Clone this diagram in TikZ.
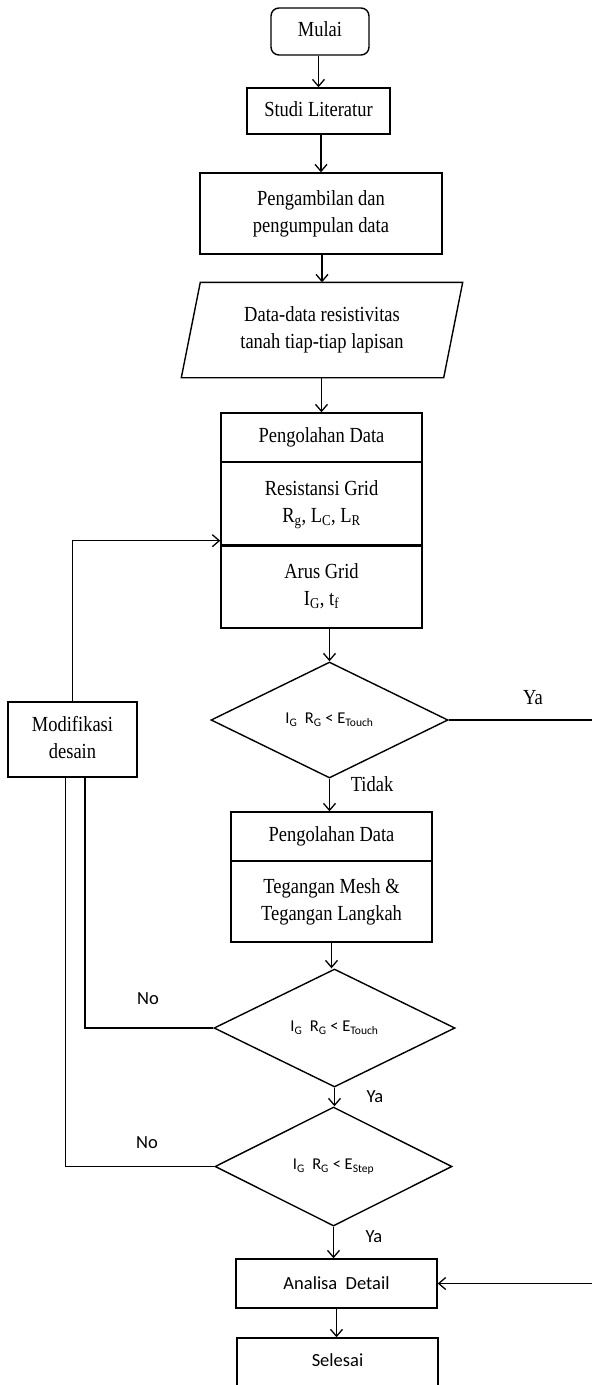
\documentclass[tikz,border=0pt]{standalone}
\usepackage{fontspec}
\usepackage{graphicx}
\setmainfont{Liberation Serif}
\newfontfamily\calib{Carlito}
\usetikzlibrary{shapes.geometric,arrows.meta}
\newcommand\sqz[1]{\scalebox{0.86}[1]{\begin{tabular}{@{}c@{}}#1\end{tabular}}}
\begin{document}
\begin{tikzpicture}[x=1pt,y=-1pt,
  box/.style={draw,line width=1.4pt,inner sep=0pt,align=center,font=\fontsize{21.5}{27}\selectfont},
  dia/.style={draw,diamond,line width=1.4pt,inner sep=0pt,align=center,font=\calib\fontsize{16.5}{18}\selectfont},
  arr/.style={line width=1.3pt,-{Straight Barb[length=7pt,width=12pt,line width=1.3pt]}},
  ln/.style={line width=1.3pt},
  ser/.style={font=\fontsize{21.5}{24}\selectfont,inner sep=0pt},
  san/.style={font=\calib\fontsize{18.5}{22}\selectfont,inner sep=0pt}]
\useasboundingbox (0,0) rectangle (592,1385);
\clip (0,0) rectangle (592,1385);
\fill[white] (0,0) rectangle (592,1385);

% main column
\node[box,rounded corners=8pt,minimum width=98pt,minimum height=47pt] (mulai) at (320,31.5) {\sqz{Mulai}};
\node[box,minimum width=143pt,minimum height=46pt] (studi) at (318.5,111) {\sqz{Studi Literatur}};
\node[box,minimum width=242pt,minimum height=81pt] (ambil) at (321,213.5) {\sqz{Pengambilan dan\\pengumpulan data}};
\node[box,draw=none,minimum width=261pt,minimum height=94pt] (para) at (322,330) {\sqz{Data-data resistivitas\\tanah tiap-tiap lapisan}};
\draw[line width=1.4pt] ([xshift=9.5pt]para.north west) -- ([xshift=9.5pt]para.north east) -- ([xshift=-9.5pt]para.south east) -- ([xshift=-9.5pt]para.south west) -- cycle;

\node[box,minimum width=201pt,minimum height=49pt] (pd1) at (321.5,437.5) {\sqz{Pengolahan Data}};
\node[box,minimum width=201pt,minimum height=83pt] (rg) at (321.5,503.5) {\sqz{Resistansi Grid\\R\textsubscript{g}, L\textsubscript{C}, L\textsubscript{R}}};
\node[box,minimum width=201pt,minimum height=83pt] (ag) at (321.5,586.5) {\sqz{Arus Grid\\I\textsubscript{G}, t\textsubscript{f}}};
\draw[line width=3.2pt] (rg.south west) -- (rg.south east);

\node[dia,minimum width=237pt,minimum height=116pt] (d1) at (329.5,720) {I\textsubscript{G}~~R\textsubscript{G} < E\textsubscript{Touch}};

\node[box,minimum width=201pt,minimum height=49pt] (pd2) at (331.5,836.5) {\sqz{Pengolahan Data}};
\node[box,minimum width=201pt,minimum height=81pt] (tm) at (331.5,901.5) {\sqz{Tegangan Mesh \&\\Tegangan Langkah}};

\node[dia,minimum width=241pt,minimum height=118pt] (d2) at (334.5,1028) {I\textsubscript{G}~~R\textsubscript{G} < E\textsubscript{Touch}};
\node[dia,minimum width=237pt,minimum height=119pt] (d3) at (333.5,1166.5) {I\textsubscript{G}~~R\textsubscript{G} < E\textsubscript{Step}};

\node[box,font=\calib\fontsize{18.5}{22}\selectfont,minimum width=201pt,minimum height=49pt] (ana) at (336.5,1283.5) {Analisa~ Detail};
\node[box,font=\calib\fontsize{18.5}{22}\selectfont,minimum width=201pt,text height=28pt,text depth=34pt] (sel) at (337.5,1369) {Selesai};

\node[box,minimum width=129pt,minimum height=75pt] (mod) at (72.5,739.5) {\sqz{Modifikasi\\desain}};

% arrows down the main column
\draw[arr] (studi.north |- mulai.south) -- (studi.north);
\draw[arr] (ambil.north |- studi.south) -- (ambil.north);
\draw[arr] (para.north |- ambil.south) -- (para.north);
\draw[arr] (pd1.north |- para.south) -- (pd1.north);
\draw[arr] (d1.north |- ag.south) -- (d1.north);
\draw[arr] (d1.south) -- (d1.south |- pd2.north);
\draw[arr] (tm.south) -- (tm.south |- d2.north);
\draw[arr] (d2.south) -- (d2.south |- d3.north);
\draw[arr] (d3.south) -- (d3.south |- ana.north);
\draw[arr] (ana.south) -- (ana.south |- sel.north);

% feedback and side branches
\draw[arr] (mod.north) |- ([yshift=5pt]rg.south west);
\draw[ln] (d2.west) -| ([xshift=12.5pt]mod.south);
\draw[ln] (d3.west) -| ([xshift=-7pt]mod.south);
\coordinate (e1) at (592,720);
\coordinate (e2) at (592,1283.5);
\draw[ln] (d1.east) -- (e1);
\draw[arr] (e2) -- (ana.east);

% labels
\node[ser] (lya1) at (533,700) {\sqz{Ya}};
\node[ser] (ltidak) at (372,787) {\sqz{Tidak}};
\node[san] (lno1) at (148,999) {No};
\node[san] (lya2) at (375,1097) {Ya};
\node[san] (lno2) at (147,1143) {No};
\node[san] (lya3) at (374,1237) {Ya};
\end{tikzpicture}
\end{document}
